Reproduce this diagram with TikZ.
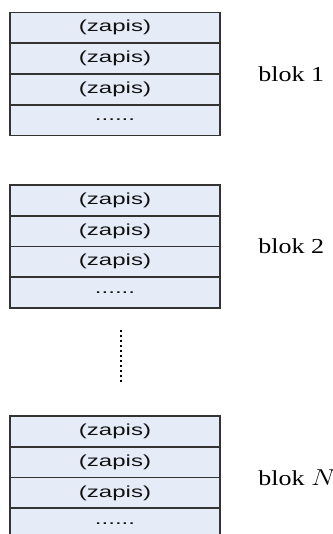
\documentclass[tikz,border=0pt]{standalone}
\usepackage{fontspec}
\setmainfont{Liberation Serif}
\newfontfamily\recfont{Liberation Sans}
\usetikzlibrary{positioning}
\definecolor{recfill}{HTML}{E6ECF7}
\definecolor{recline}{HTML}{333333}
\definecolor{rectext}{HTML}{111111}
\newcommand{\rectxt}[1]{\scalebox{1.5}[1]{\fontsize{12}{14}\recfont #1}}
\newcommand{\blktxt}[1]{\scalebox{1.22}[1]{\fontsize{16}{19}\selectfont #1}}
\tikzset{
  zrow/.style={draw=recline, fill=recfill, line width=1.2pt, minimum width=157.5pt,
    minimum height=23.06pt, inner sep=0pt, outer sep=0pt, text=rectext},
  blab/.style={anchor=west, inner sep=0pt, text=black}
}
\begin{document}
\begin{tikzpicture}[x=0.75pt,y=0.75pt]
  \useasboundingbox (0,0) rectangle (332,534);
  \clip (0,0) rectangle (332,534);
  \foreach \bl/\top/\lab in {1/521.5/{blok 1}, 2/349/{blok 2}, N/118/{blok $N$}} {
    \node[zrow, anchor=north] (b\bl r1) at (115,\top) {\rectxt{(zapis)}};
    \node[zrow, below=0pt of b\bl r1] (b\bl r2) {\rectxt{(zapis)}};
    \node[zrow, below=0pt of b\bl r2] (b\bl r3) {\rectxt{(zapis)}};
    \node[zrow, below=0pt of b\bl r3] (b\bl r4) {\rectxt{......}};
    \node[blab, right=28.5pt of b\bl r2.south east] (lab\bl) {\blktxt{\lab}};
  }
  % dots between block 2 and block N
  \coordinate (dtop) at (120.7,204);
  \coordinate (dbot) at (120.7,152);
  \draw[black, line width=1.4pt, dash pattern=on 1.2pt off 2.55pt] (dtop) -- (dbot);
\end{tikzpicture}
\end{document}
